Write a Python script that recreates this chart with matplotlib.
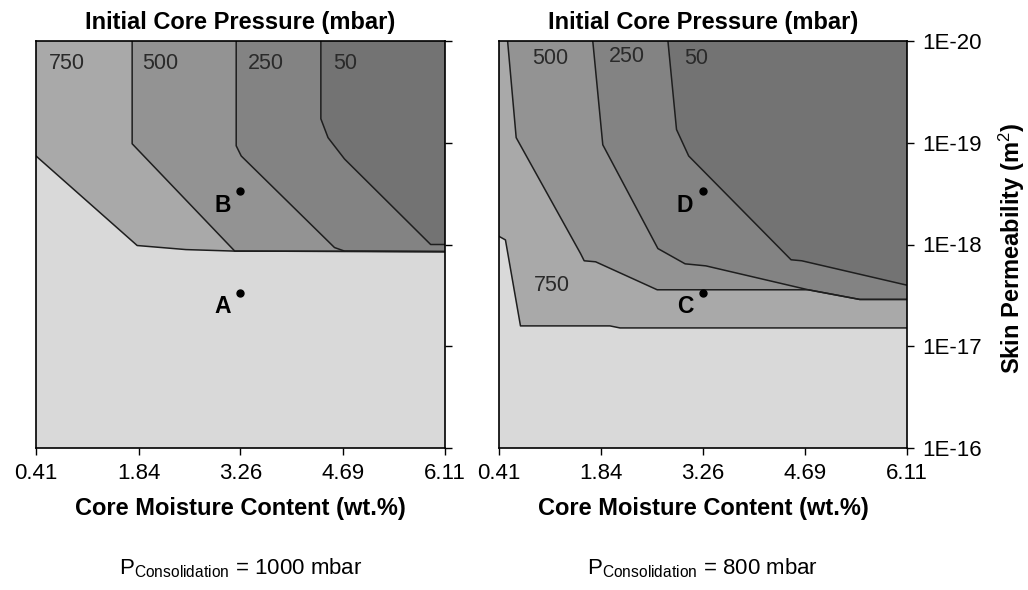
import numpy as np
import matplotlib
matplotlib.use('Agg')
import matplotlib.pyplot as plt
from matplotlib.ticker import FixedLocator, NullLocator

plt.rcParams['font.family'] = ['Liberation Sans', 'DejaVu Sans']
plt.rcParams['mathtext.fontset'] = 'custom'
plt.rcParams['mathtext.rm'] = 'Liberation Sans'
plt.rcParams['mathtext.it'] = 'Liberation Sans:italic'
plt.rcParams['mathtext.bf'] = 'Liberation Sans:bold'

# ---------------- data ----------------
x_ticks = [0.41, 1.84, 3.26, 4.69, 6.11]
x_tick_labels = ['0.41', '1.84', '3.26', '4.69', '6.11']
y_ticks = [1e-20, 1e-19, 1e-18, 1e-17, 1e-16]
y_tick_labels = ['1E-20', '1E-19', '1E-18', '1E-17', '1E-16']

levels = ['750', '500', '250', '50']

# Left panel (P consolidation = 1000 mbar): iso-pressure boundaries, log10(k)
left_750_x = [0.41, 1.82, 2.50, 3.18, 6.11]
left_750_logk = [-18.87, -17.99, -17.95, -17.935, -17.93]
left_500_x = [1.75, 1.75, 3.18, 6.11]
left_500_logk = [-20.0, -18.99, -17.935, -17.93]
left_250_x = [3.20, 3.20, 3.27, 4.57, 4.71, 6.11]
left_250_logk = [-20.0, -18.97, -18.87, -17.97, -17.935, -17.93]
left_50_x = [4.38, 4.38, 4.48, 4.71, 5.91, 6.11]
left_50_logk = [-20.0, -19.235, -19.05, -18.84, -18.0, -18.0]

# Right panel (P consolidation = 800 mbar)
right_750_x = [0.41, 0.50, 0.71, 1.96, 2.10, 6.11]
right_750_logk = [-18.08, -18.045, -17.20, -17.20, -17.18, -17.18]
right_500_x = [0.53, 0.65, 1.55, 1.60, 1.76, 2.62, 4.73, 5.45, 6.11]
right_500_logk = [-20.0, -19.05, -17.91, -17.84, -17.83, -17.555, -17.555, -17.46, -17.46]
right_250_x = [1.72, 1.86, 2.63, 3.01, 3.30, 4.73, 5.45, 6.11]
right_250_logk = [-20.0, -18.98, -17.96, -17.81, -17.79, -17.555, -17.46, -17.46]
right_50_x = [2.77, 2.89, 3.06, 4.49, 4.64, 6.11]
right_50_logk = [-20.0, -19.13, -18.87, -17.85, -17.84, -17.60]

# contour labels positions (x, log10 k)
left_label_x = [0.84, 2.14, 3.61, 4.72]
left_label_logk = [-19.78, -19.78, -19.78, -19.78]
left_label_text = ['750', '500', '250', '50']
right_label_x = [1.12, 2.19, 3.17, 1.15]
right_label_logk = [-19.83, -19.85, -19.83, -17.60]
right_label_text = ['500', '250', '50', '750']

# marked points
left_pts_x = [3.26, 3.26]
left_pts_k = [3e-18, 3e-19]
left_pts_name = ['A', 'B']
right_pts_x = [3.26, 3.26]
right_pts_k = [3e-18, 3e-19]
right_pts_name = ['C', 'D']

consolidation = ['1000', '800']

# ---------------- style ----------------
c_light = '#d9d9d9'
region_colors = ['#a9a9a9', '#939393', '#838383', '#737373']
line_color = '#1e1e1e'

fig = plt.figure(figsize=(10.28, 5.90), dpi=100)
W, H = 1028.0, 590.0
ax_l = fig.add_axes([36 / W, 1 - 448 / H, 409 / W, 407 / H])
ax_r = fig.add_axes([499 / W, 1 - 448 / H, 408 / W, 407 / H])


def draw_panel(ax, bounds, lab_x, lab_logk, lab_text, pts_x, pts_k, pts_name, show_y):
    ax.set_facecolor(c_light)
    ax.set_yscale('log')
    ax.set_xlim(x_ticks[0], x_ticks[-1])
    ax.set_ylim(y_ticks[-1], y_ticks[0])
    for (bx, blk), col in zip(bounds, region_colors):
        px = list(bx) + [x_ticks[-1], bx[0]]
        py = list(10.0 ** np.array(blk)) + [y_ticks[0], y_ticks[0]]
        ax.fill(px, py, color=col, lw=0, zorder=1)
    for bx, blk in bounds:
        ax.plot(bx, 10.0 ** np.array(blk), color=line_color, lw=1.1, zorder=2,
                solid_joinstyle='round')
    for x, lk, t in zip(lab_x, lab_logk, lab_text):
        ax.text(x, 10.0 ** lk, t, fontsize=15.5, color='#2a2a2a', ha='center', va='center', zorder=3)
    for x, k, n in zip(pts_x, pts_k, pts_name):
        ax.plot([x], [k], 'o', color='black', ms=5, zorder=4)
        ax.annotate(n, (x, k), xytext=(-13, -10), textcoords='offset points',
                    ha='center', va='center', fontsize=16.5, fontweight='bold', zorder=4)

    ax.xaxis.set_major_locator(FixedLocator(x_ticks))
    ax.set_xticklabels(x_tick_labels)
    ax.yaxis.set_major_locator(FixedLocator(y_ticks))
    ax.yaxis.set_minor_locator(NullLocator())
    ax.yaxis.tick_right()
    if show_y:
        ax.set_yticklabels(y_tick_labels)
    else:
        ax.set_yticklabels([])
    ax.tick_params(axis='both', direction='out', length=5, width=1, labelsize=16,
                   colors='black')
    ax.tick_params(axis='x', pad=6)
    ax.tick_params(axis='y', pad=6)
    for s in ax.spines.values():
        s.set_linewidth(1.2)
        s.set_color('black')
        s.set_zorder(5)
    ax.set_title('Initial Core Pressure (mbar)', fontsize=17, fontweight='bold', pad=9)
    ax.set_xlabel('Core Moisture Content (wt.%)', fontsize=17, fontweight='bold', labelpad=9)


draw_panel(ax_l,
           [(left_750_x, left_750_logk), (left_500_x, left_500_logk),
            (left_250_x, left_250_logk), (left_50_x, left_50_logk)],
           left_label_x, left_label_logk, left_label_text,
           left_pts_x, left_pts_k, left_pts_name, False)
draw_panel(ax_r,
           [(right_750_x, right_750_logk), (right_500_x, right_500_logk),
            (right_250_x, right_250_logk), (right_50_x, right_50_logk)],
           right_label_x, right_label_logk, right_label_text,
           right_pts_x, right_pts_k, right_pts_name, True)

fig.text(1012 / W, 1 - 248 / H, r'Skin Permeability (m$^{2}$)', rotation=90,
         fontsize=17, fontweight='bold', ha='center', va='center')

for ax, p in zip([ax_l, ax_r], consolidation):
    bb = ax.get_position()
    fig.text((bb.x0 + bb.x1) / 2, 1 - 568 / H,
             r'P$_{\mathrm{Consolidation}}$ = ' + p + ' mbar',
             fontsize=16, ha='center', va='center')

fig.savefig('out.png', dpi=100)
